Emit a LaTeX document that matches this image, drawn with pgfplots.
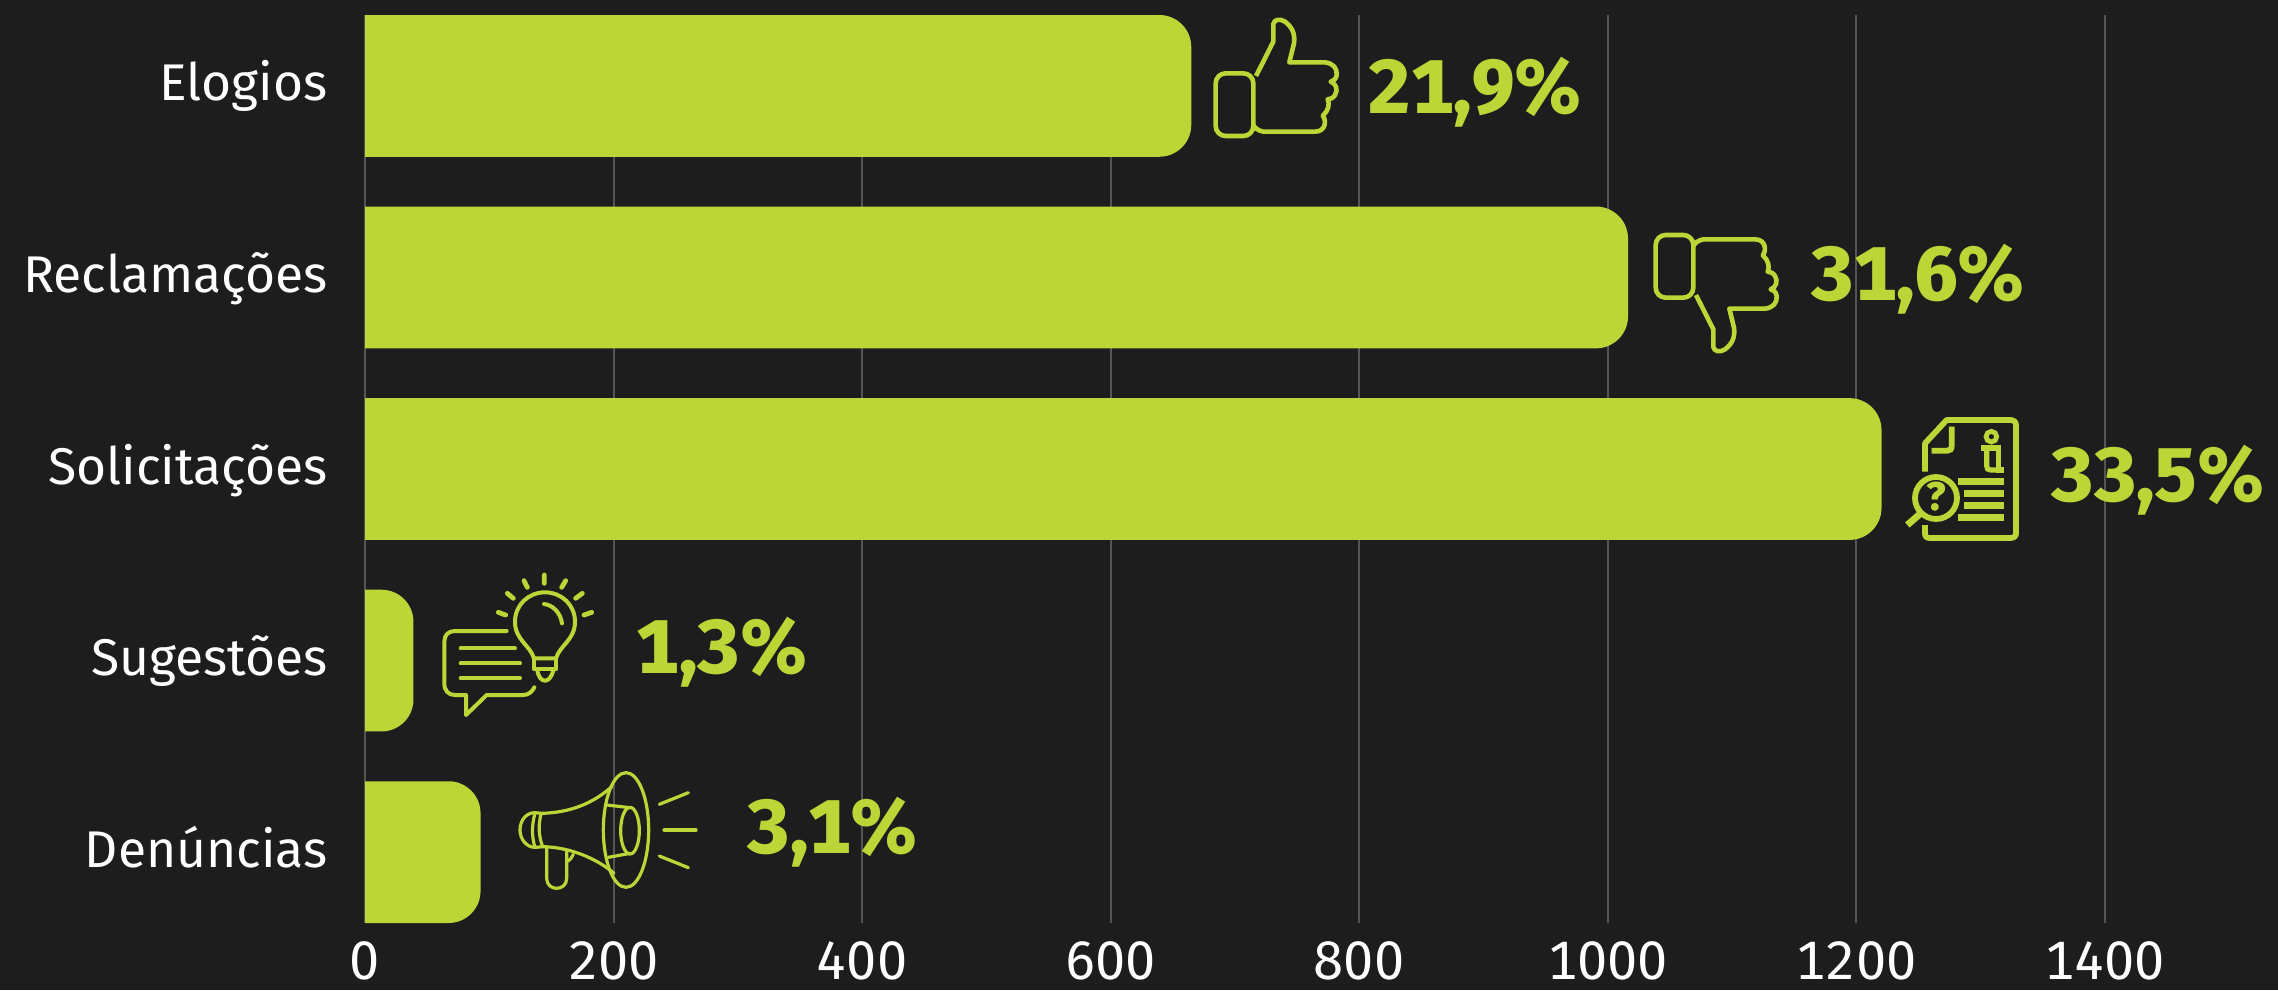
\documentclass[border=0pt]{standalone}
\usepackage{pgfplots}
\pgfplotsset{compat=1.18}
\usepackage{pgfplotstable}
\usepackage{fontspec}
\setmainfont[Numbers=Monospaced]{Fira Sans}
\newfontfamily\pctfont[Numbers=Monospaced]{Fira Sans ExtraBold}
\definecolor{bg}{RGB}{29,29,29}
\definecolor{lime}{RGB}{187,214,54}
\definecolor{gridc}{RGB}{85,85,85}
\pgfplotstableread{
x y label
807.5 0.143 21,9\%
1164 1.118 31,6\%
1357 2.172 33,5\%
218.5 3.066 1,3\%
307.5 4.007 3,1\%
}\pcts
\newcommand\thumbpath{
  \draw[rounded corners=5pt] (197,220) rectangle (310,408);
  \draw[line join=round] (318,228) -- (370,125) -- (370,72) .. controls (372,58) and (390,55) .. (405,65) .. controls (425,80) and (436,100) .. (432,130) -- (418,187) -- (525,187) .. controls (550,190) and (562,205) .. (560,225) .. controls (558,238) and (550,243) .. (542,245) .. controls (558,250) and (565,270) .. (555,285) .. controls (550,295) and (540,297) .. (533,298) .. controls (540,310) and (535,335) .. (518,347) .. controls (530,360) and (528,395) .. (495,395) -- (340,395) .. controls (325,392) and (315,385) .. (310,375);
}
\begin{document}
\begin{tikzpicture}[x=0.5pt,y=-0.5pt]
\fill[bg] (0,0) rectangle (2278,990);
\path[use as bounding box] (0,0) rectangle (2278,990);
\begin{axis}[
  at={(182.5pt,-461.5pt)}, anchor=south west,
  scale only axis, width=956.5pt, height=454pt,
  xmin=0, xmax=1539.6,
  ymin=-0.37, ymax=4.37, y dir=reverse,
  xtick={0,200,400,600,800,1000,1200,1400},
  xticklabels={0,200,400,600,800,1000,1200,1400},
  ytick={0,1,2,3,4},
  yticklabels={Elogios,Reclamações,Solicitações,Sugestões,Denúncias},
  axis line style={draw=none},
  tick style={draw=none},
  major tick length=0pt,
  xmajorgrids, major x grid style={draw=gridc,line width=1pt},
  tick label style={text=white},
  /pgf/number format/assume math mode=true,
  yticklabel style={anchor=east,xshift=-19pt+3.33333pt+0.5pt,yshift=-1pt,text height=19pt,text depth=6pt,font=\fontsize{25.8}{26}\selectfont},
  xticklabel style={anchor=north,inner sep=0pt,text height=18.6pt,text depth=0pt,yshift=-9.2pt,font=\fontsize{27}{27}\selectfont},
  extra x ticks={0}, extra x tick labels={},
  extra x tick style={grid style={draw=white!65!bg,line width=0.5pt}},
  clip=true,
]
\pgfplotsset{barstyle/.style={fill=lime,draw=none,mark=none,rounded corners=16pt}}
\addplot[barstyle] coordinates {(0,-0.37)(665,-0.37)(665,0.37)(0,0.37)};
\addplot[barstyle] coordinates {(0,0.63)(1016.5,0.63)(1016.5,1.37)(0,1.37)};
\addplot[barstyle] coordinates {(0,1.63)(1220.5,1.63)(1220.5,2.37)(0,2.37)};
\addplot[barstyle] coordinates {(0,2.63)(39,2.63)(39,3.37)(0,3.37)};
\addplot[barstyle] coordinates {(0,3.63)(93,3.63)(93,4.37)(0,4.37)};
\addplot[draw=none, mark=none, point meta=explicit symbolic, nodes near coords,
  every node near coord/.append style={anchor=base west,inner sep=0pt,text=lime,
    font=\pctfont\fontsize{38}{38}\selectfont}]
  table[x=x,y=y,meta=label] {\pcts};
\end{axis}
% icons
\begin{scope}[draw=lime,line width=2.3pt,shift={(1150,0)},scale=0.33333]
  \thumbpath
\end{scope}
\begin{scope}[draw=lime,line width=2.3pt,shift={(1590,371)},yscale=-0.33333,xscale=0.33333]
  \thumbpath
\end{scope}
\begin{scope}[draw=lime,line width=2.9pt,shift={(1850,380)},scale=0.33333]
  \draw[line join=round] (225,275) -- (225,190) -- (290,120) -- (480,120) .. controls (490,120) and (498,125) .. (498,135) -- (498,460) .. controls (498,470) and (490,474) .. (480,474) -- (240,474) .. controls (230,474) and (225,470) .. (225,460) -- (225,435);
  \draw (305,140) -- (305,198) .. controls (305,208) and (300,212) .. (292,212) -- (245,212);
  \draw[line width=2.4pt] (424,170) circle (16);
  \draw[line width=2.6pt] (393,204) -- (445,204) -- (445,270) -- (462,270);
  \draw[line width=2.6pt] (410,204) -- (410,258) .. controls (410,266) and (414,270) .. (422,270) -- (445,270);
  \foreach \xa/\ya in {325/304,342/340,342/376,325/412} \draw[line width=3.4pt] (\xa,\ya) -- (462,\ya);
  \draw (258,354) circle (63);
  \draw[line width=3.4pt] (212,400) -- (172,435);
  \node[text=lime,inner sep=0pt,font=\pctfont\fontsize{20}{20}\selectfont] at (258,350) {?};
\end{scope}
\begin{scope}[draw=lime,line width=2pt,line cap=round,line join=round,shift={(340,560)},scale=0.33333]
  \draw (500,213) -- (345,213) .. controls (325,213) and (313,225) .. (313,245) -- (313,370) .. controls (313,392) and (325,405) .. (345,405) -- (378,405) -- (378,465) -- (440,405) -- (550,405) .. controls (565,405) and (577,395) .. (583,382);
  \draw (362,265) -- (525,265);
  \draw (362,310) -- (540,310);
  \draw (362,354) -- (540,354);
  \draw (582,295) .. controls (570,255) and (525,240) .. (525,185) .. controls (525,135) and (565,97) .. (615,97) .. controls (665,97) and (705,135) .. (705,185) .. controls (705,240) and (660,255) .. (648,295) -- cycle;
  \draw (582,295) -- (582,328) -- (648,328) -- (648,295);
  \draw (592,330) .. controls (595,352) and (605,362) .. (615,362) .. controls (625,362) and (635,352) .. (640,330);
  \draw (612,132) .. controls (640,135) and (662,160) .. (666,190);
  \draw[line width=2.4pt]
    (475,157) -- (497,165) (502,100) -- (520,115) (552,62) -- (562,82) (613,45) -- (613,70)
    (677,62) -- (665,82) (727,100) -- (707,115) (755,157) -- (732,165);
\end{scope}
\begin{scope}[draw=lime,line width=1.6pt,line cap=round,line join=round,shift={(340,560)},scale=0.33333]
  \draw (858,810) ellipse (68 and 172);
  \draw (815,680) .. controls (760,730) and (690,758) .. (605,760) -- (585,758) .. controls (555,758) and (540,785) .. (540,810) .. controls (540,838) and (560,862) .. (585,862) -- (610,860) .. controls (690,862) and (770,895) .. (822,940);
  \draw (603,762) .. controls (595,795) and (595,825) .. (608,860);
  \draw (585,760) .. controls (575,795) and (575,830) .. (585,862);
  \draw (870,812) ellipse (28 and 70);
  \draw (800,735) -- (870,743);
  \draw (805,892) -- (870,880);
  \draw (620,865) -- (620,955) .. controls (620,975) and (635,985) .. (650,985) .. controls (665,985) and (680,975) .. (680,955) -- (680,875);
  \draw (680,905) .. controls (690,900) and (697,892) .. (700,883);
  \draw (958,733) -- (1045,698);
  \draw (972,810) -- (1068,810);
  \draw (958,888) -- (1045,923);
\end{scope}
\end{tikzpicture}
\end{document}
